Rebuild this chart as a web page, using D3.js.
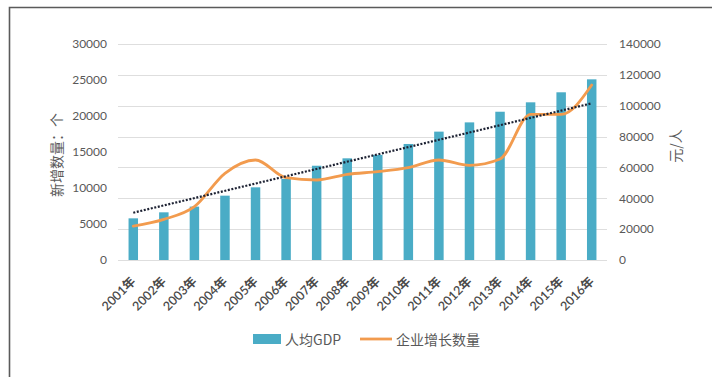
<!DOCTYPE html>
<html>
<head>
<meta charset="utf-8">
<script src="https://cdn.jsdelivr.net/npm/d3@7"></script>
<style>
  html, body { margin: 0; padding: 0; background: #fff; }
  svg { display: block; }
  text { font-family: Lato, "Noto Sans CJK SC", sans-serif; fill: #595959; }
</style>
</head>
<body>
<svg id="chart" width="712" height="377"></svg>
<script>
// Years on the category axis
const years = ["2001年","2002年","2003年","2004年","2005年","2006年","2007年","2008年",
               "2009年","2010年","2011年","2012年","2013年","2014年","2015年","2016年"];
// Per-capita GDP (元/人), right axis, bars
const gdpPerCapita = [27000, 30900, 34600, 41700, 47100, 52500, 61100, 65900,
                      68100, 75200, 83200, 89200, 96100, 102200, 108700, 117100];
// Newly added enterprises (个), left axis, smoothed line
const newEnterprises = [4720, 5650, 7400, 12040, 13890, 11430, 11110, 11900,
                        12270, 12820, 13890, 13150, 14030, 20230, 20230, 24300];
// Linear trend of the enterprise series at the first and last year
const trendYears = ["2001年", "2016年"];
const trendValues = [6570, 21760];
// Axis ticks
const leftTicks = [0, 5000, 10000, 15000, 20000, 25000, 30000];
const rightTicks = [0, 20000, 40000, 60000, 80000, 100000, 120000, 140000];

const svg = d3.select("#chart");

const plot = { left: 118, right: 607, top: 44, bottom: 260 };

const x = d3.scaleBand().domain(years).range([plot.left, plot.right])
  .paddingInner(0.69).paddingOuter(0.345);
const yL = d3.scaleLinear().domain([0, 30000]).range([plot.bottom, plot.top]);
const yR = d3.scaleLinear().domain([0, 140000]).range([plot.bottom, plot.top]);

// Frame
svg.append("path")
  .attr("d", "M9.5,377 L9.5,7.5 L712,7.5")
  .attr("fill", "none").attr("stroke", "#5a5a5a").attr("stroke-width", 1.6);

// Gridlines (follow the right axis)
svg.append("g").selectAll("line").data(rightTicks).join("line")
  .attr("x1", plot.left).attr("x2", plot.right)
  .attr("y1", d => Math.round(yR(d)) + 0.5).attr("y2", d => Math.round(yR(d)) + 0.5)
  .attr("stroke", "#dedede").attr("stroke-width", 1);

// Left axis
const gL = svg.append("g").attr("transform", `translate(${plot.left},0)`)
  .call(d3.axisLeft(yL).tickValues(leftTicks).tickSize(0).tickPadding(11).tickFormat(d3.format("d")));
gL.select(".domain").remove();
gL.selectAll("text").style("font-size", "12px").style("fill", "#595959").style("font-family", "Lato, sans-serif");

// Right axis
const gR = svg.append("g").attr("transform", `translate(${plot.right},0)`)
  .call(d3.axisRight(yR).tickValues(rightTicks).tickSize(0).tickPadding(12).tickFormat(d3.format("d")));
gR.select(".domain").remove();
gR.selectAll("text").style("font-size", "12px").style("fill", "#595959").style("font-family", "Lato, sans-serif");

// Bottom axis labels, rotated
const gX = svg.append("g").attr("transform", `translate(0,${plot.bottom})`)
  .call(d3.axisBottom(x).tickSize(0).tickPadding(0));
gX.select(".domain").remove();
gX.selectAll("text")
  .attr("text-anchor", "end")
  .attr("dy", "0.35em")
  .attr("transform", "translate(0,19) rotate(-45)")
  .style("font-size", "12.5px").style("font-weight", "600").style("fill", "#4a4a4a")
  .style("font-family", "Lato, 'Noto Sans CJK SC', sans-serif");

// Bars
svg.append("g").selectAll("rect").data(years).join("rect")
  .attr("x", d => x(d))
  .attr("width", x.bandwidth())
  .attr("y", (d, i) => yR(gdpPerCapita[i]))
  .attr("height", (d, i) => plot.bottom - yR(gdpPerCapita[i]))
  .attr("fill", "#4aacc6");

// Smoothed line
const line = d3.line()
  .x((d, i) => x(years[i]) + x.bandwidth() / 2)
  .y(d => yL(d))
  .curve(d3.curveMonotoneX);
svg.append("path").datum(newEnterprises)
  .attr("d", line)
  .attr("fill", "none").attr("stroke", "#f29b4e").attr("stroke-width", 2.8)
  .attr("stroke-linejoin", "round").attr("stroke-linecap", "round");

// Trendline (dotted)
svg.append("line")
  .attr("x1", x(trendYears[0]) + x.bandwidth() / 2)
  .attr("x2", x(trendYears[1]) + x.bandwidth() / 2)
  .attr("y1", yL(trendValues[0]))
  .attr("y2", yL(trendValues[1]))
  .attr("stroke", "#1d2233").attr("stroke-width", 2.2)
  .attr("stroke-dasharray", "2 1.6");

// Axis titles
svg.append("text")
  .attr("transform", "translate(56,155) rotate(-90)")
  .attr("text-anchor", "middle").attr("dominant-baseline", "central")
  .style("font-size", "14px").style("fill", "#595959")
  .style("font-family", "'Noto Sans CJK SC', sans-serif")
  .text("新增数量：个");
svg.append("text")
  .attr("transform", "translate(675,146) rotate(-90)")
  .attr("text-anchor", "middle").attr("dominant-baseline", "central")
  .style("font-size", "14px").style("fill", "#595959")
  .style("font-family", "'Noto Sans CJK SC', sans-serif")
  .text("元/人");

// Legend
const legendY = 339;
svg.append("rect").attr("x", 253).attr("y", legendY - 5).attr("width", 28).attr("height", 10)
  .attr("fill", "#4aacc6");
svg.append("text").attr("x", 285).attr("y", legendY).attr("dominant-baseline", "central")
  .style("font-size", "14px").style("font-family", "'Noto Sans CJK SC', sans-serif")
  .text("人均GDP");
svg.append("line").attr("x1", 360).attr("x2", 392).attr("y1", legendY).attr("y2", legendY)
  .attr("stroke", "#f29b4e").attr("stroke-width", 2.8);
svg.append("text").attr("x", 396).attr("y", legendY).attr("dominant-baseline", "central")
  .style("font-size", "14px").style("font-family", "'Noto Sans CJK SC', sans-serif")
  .text("企业增长数量");
</script>
</body>
</html>
